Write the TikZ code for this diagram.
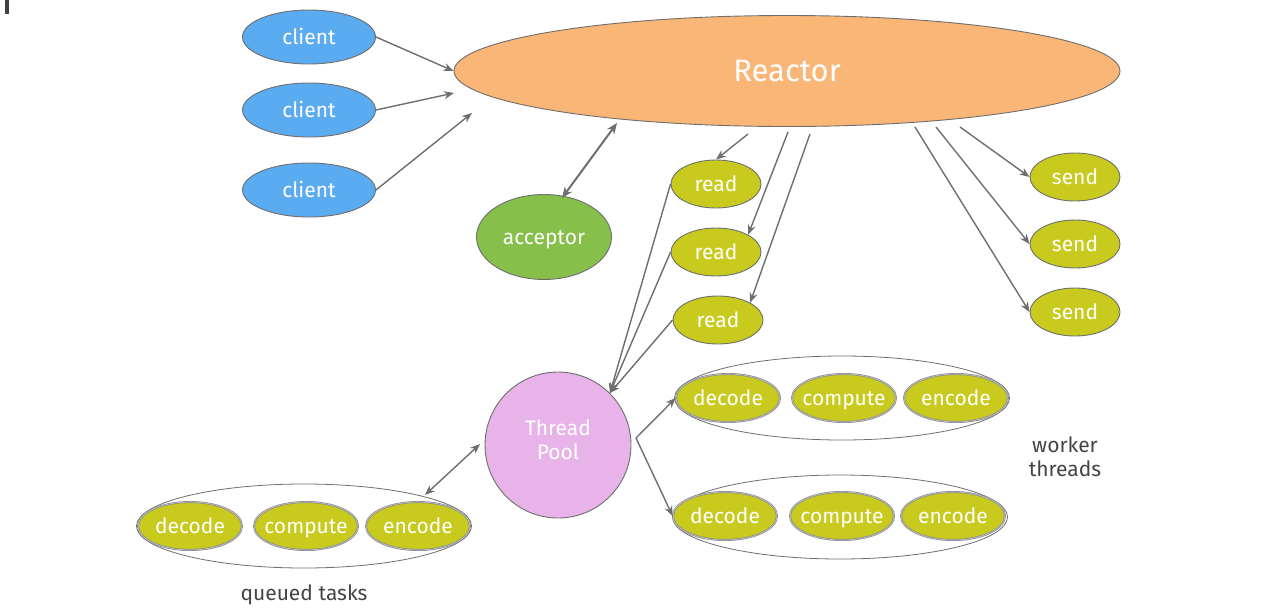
\documentclass[tikz,border=0pt]{standalone}
\usepackage{fontspec}
\setmainfont{Fira Sans}
\usetikzlibrary{arrows.meta,shapes.geometric}
\definecolor{cblue}{HTML}{5AABF0}
\definecolor{corange}{HTML}{F9B677}
\definecolor{cgreen}{HTML}{86BF4A}
\definecolor{cyel}{HTML}{C9CA1E}
\definecolor{cpink}{HTML}{E8B3E8}
\definecolor{cline}{HTML}{6E6E6E}
\definecolor{ctext}{HTML}{444444}
\tikzset{
  ell/.style={ellipse, draw=cline, line width=0.9pt, inner xsep=-12pt, inner ysep=0pt, text height=19pt, text depth=3.5pt, text=white, font=\fontsize{21}{24}\selectfont},
  clientn/.style={ell, fill=cblue, minimum width=133pt, minimum height=54pt},
  smalln/.style={ell, fill=cyel, minimum width=90pt, minimum height=48pt},
  taskn/.style={ell, fill=cyel, minimum width=104pt, minimum height=48pt, draw=cline!80, double=cline!40, double distance=0.6pt, line width=0.7pt},
  groupn/.style={ellipse, draw=cline, line width=0.8pt, inner sep=0pt, minimum width=335pt, minimum height=84pt},
  arr/.style={draw=cline, line width=1.4pt, -{Stealth[length=10pt,width=8pt]}},
  darr/.style={draw=cline, line width=2pt, {Stealth[length=11pt,width=9pt]}-{Stealth[length=11pt,width=9pt]}},
  sarr/.style={draw=cline, line width=1.4pt, {Stealth[length=10pt,width=8pt]}-{Stealth[length=10pt,width=8pt]}},
  lbl/.style={text=ctext, font=\fontsize{21}{24}\selectfont, align=center}
}
\begin{document}
\begin{tikzpicture}[x=1pt,y=-1pt]
\useasboundingbox (0,0) rectangle (1263,614);
\fill[black!75] (5,0) rectangle (9,14);
% top nodes
\node[clientn] (c1) at (309,37) {client};
\node[clientn] (c2) at (309,110) {client};
\node[clientn] (c3) at (309,190) {client};
\node[ell, fill=corange, minimum width=666pt, minimum height=111pt, text height=26pt, text depth=4.5pt, font=\fontsize{31}{34}\selectfont] (reactor) at (787,71) {Reactor};
\node[ell, fill=cgreen, minimum width=135pt, minimum height=85pt] (acc) at (544,237) {acceptor};
\node[smalln] (r1) at (716,184) {read};
\node[smalln] (r2) at (716,252) {read};
\node[smalln] (r3) at (718,320) {read};
\node[smalln] (s1) at (1075,177) {send};
\node[smalln] (s2) at (1075,244) {send};
\node[smalln] (s3) at (1075,312) {send};
\node[circle, draw=cline, line width=0.9pt, fill=cpink, minimum size=146pt, inner sep=0pt] (tp) at (558,445) {};
\node[text=white, align=center, font=\fontsize{21}{24}\selectfont] (tpt) at (558,440) {Thread\\Pool};
% worker groups
\node[groupn] (g1) at (842,398) {};
\node[taskn] (d1) at (728,398) {decode};
\node[taskn] (m1) at (844,398) {compute};
\node[taskn] (e1) at (956,398) {encode};
\node[groupn] (g2) at (840,517) {};
\node[taskn] (d2) at (725,516) {decode};
\node[taskn] (m2) at (842,516) {compute};
\node[taskn] (e2) at (953,516) {encode};
\node[groupn] (gq) at (304,526) {};
\node[taskn] (dq) at (190,526) {decode};
\node[taskn] (mq) at (306,526) {compute};
\node[taskn] (eq) at (418,526) {encode};
\node[lbl] (wt) at (1065,457) {worker\\threads};
\node[lbl] (qt) at (304,595) {queued tasks};
% free ends and anchors
\coordinate (f2) at (454,93);
\coordinate (f3) at (472,113);
\coordinate (accT) at (562,198);
\coordinate (reaB) at (617,123);
\coordinate (ra1) at (748,134);
\coordinate (ra2) at (788,132);
\coordinate (ra3) at (810,134);
\coordinate (rs1) at (960,127);
\coordinate (rs2) at (936,127);
\coordinate (rs3) at (915,127);
\coordinate (tpo) at (636,438);
\coordinate (gqa) at (425,495);
\coordinate (tpw) at (480,444);
% connectors
\draw[arr] (c1.east) -- (reactor.west);
\draw[arr] (c2.east) -- (f2);
\draw[arr] (c3.east) -- (f3);
\draw[darr] (accT) -- (reaB);
\draw[arr] (ra1) -- (r1.north);
\draw[arr] (ra2) -- (r2.north east);
\draw[arr] (ra3) -- (r3.north east);
\draw[arr] (rs1) -- (s1.west);
\draw[arr] (rs2) -- (s2.west);
\draw[arr] (rs3) -- (s3.west);
\draw[arr] (r1.west) -- (tp.north east);
\draw[arr] (r2.west) -- (tp.north east);
\draw[arr] (r3.west) -- (tp.north east);
\draw[arr] (tpo) -- (d1.west);
\draw[arr] (tpo) -- (d2.west);
\draw[sarr] (gqa) -- (tpw);
\end{tikzpicture}
\end{document}
